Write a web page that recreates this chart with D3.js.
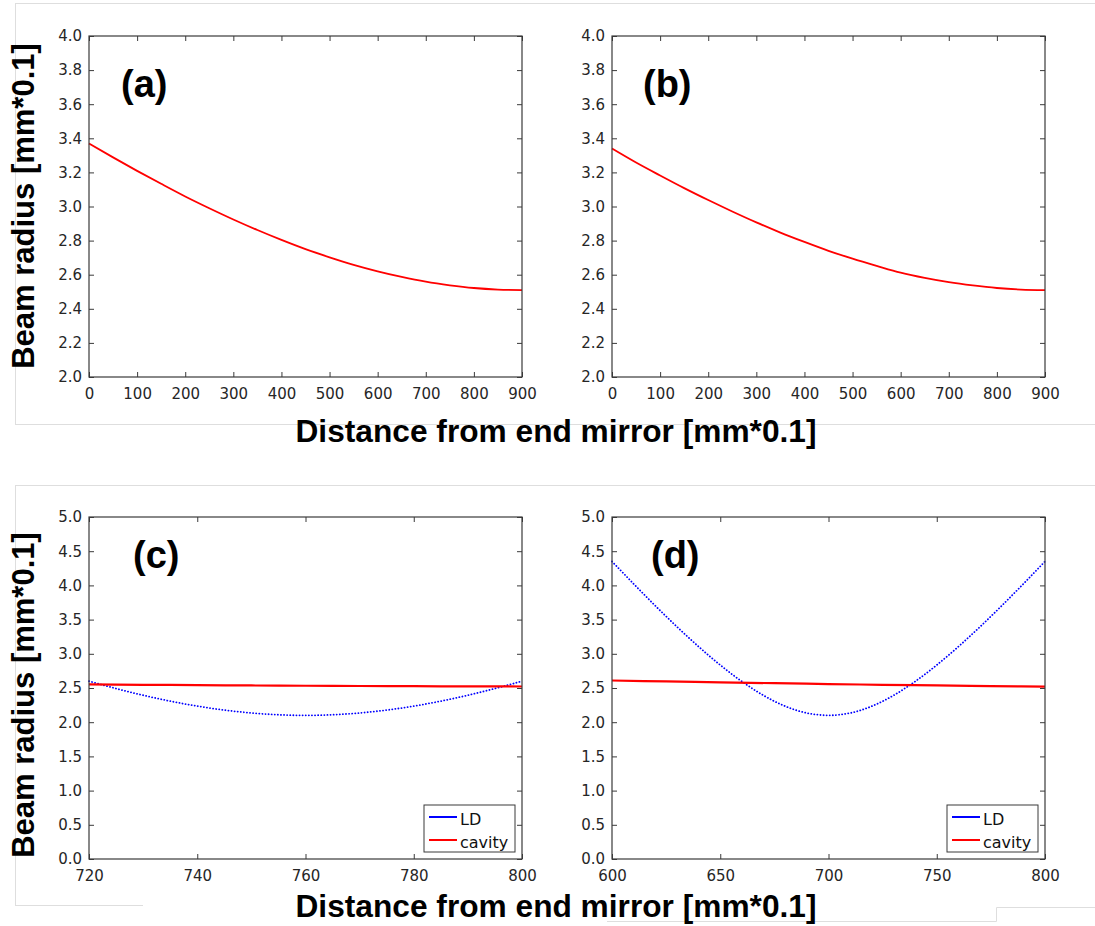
<!DOCTYPE html>
<html>
<head>
<meta charset="utf-8">
<script src="https://cdn.jsdelivr.net/npm/d3@7"></script>
<style>
  html, body { margin: 0; padding: 0; background: #fff; }
  svg { display: block; }
</style>
</head>
<body>
<svg id="fig" width="1095" height="926"></svg>
<script>
// ---- Data: beam radius [mm*0.1] versus distance from end mirror [mm*0.1] ----
// Panel (a) and (b): cavity mode
const distAB = [0, 50, 100, 150, 200, 250, 300, 350, 400, 450, 500, 550, 600, 650, 700, 750, 800, 850, 900];
const cavityA = [3.370, 3.288, 3.209, 3.133, 3.059, 2.990, 2.924, 2.862, 2.804, 2.750, 2.702, 2.658, 2.620, 2.587, 2.559, 2.538, 2.522, 2.513, 2.510];
const cavityB = [3.340, 3.258, 3.182, 3.108, 3.038, 2.971, 2.907, 2.847, 2.792, 2.740, 2.694, 2.652, 2.612, 2.581, 2.556, 2.537, 2.522, 2.513, 2.510];

// Panel (c): LD beam and cavity mode near 720-800
const distC = [720, 725, 730, 735, 740, 745, 750, 755, 760, 765, 770, 775, 780, 785, 790, 795, 800];
const ldC = [2.600, 2.492, 2.394, 2.308, 2.235, 2.177, 2.135, 2.109, 2.100, 2.109, 2.135, 2.177, 2.235, 2.308, 2.394, 2.492, 2.600];
const distCavC = [720, 730, 740, 750, 760, 770, 780, 790, 800];
const cavityC = [2.552, 2.547, 2.542, 2.537, 2.533, 2.529, 2.526, 2.524, 2.522];

// Panel (d): LD beam and cavity mode near 600-800
const distD = [600, 605, 610, 615, 620, 625, 630, 635, 640, 645, 650, 655, 660, 665, 670, 675, 680, 685, 690, 695, 700,
               705, 710, 715, 720, 725, 730, 735, 740, 745, 750, 755, 760, 765, 770, 775, 780, 785, 790, 795, 800];
const ldD = [4.350, 4.186, 4.022, 3.861, 3.702, 3.547, 3.395, 3.248, 3.105, 2.967, 2.836, 2.711, 2.595, 2.488, 2.391, 2.306, 2.234, 2.176, 2.134, 2.109, 2.100,
             2.109, 2.134, 2.176, 2.234, 2.306, 2.391, 2.488, 2.595, 2.711, 2.836, 2.967, 3.105, 3.248, 3.395, 3.547, 3.702, 3.861, 4.022, 4.186, 4.350];
const distCavD = [600, 625, 650, 675, 700, 725, 750, 775, 800];
const cavityD = [2.610, 2.596, 2.583, 2.570, 2.558, 2.547, 2.537, 2.528, 2.521];

// Tick values
const ticksXAB = [0, 100, 200, 300, 400, 500, 600, 700, 800, 900];
const ticksYAB = [2.0, 2.2, 2.4, 2.6, 2.8, 3.0, 3.2, 3.4, 3.6, 3.8, 4.0];
const ticksXC = [720, 740, 760, 780, 800];
const ticksXD = [600, 650, 700, 750, 800];
const ticksYCD = [0, 0.5, 1.0, 1.5, 2.0, 2.5, 3.0, 3.5, 4.0, 4.5, 5.0];

const legendNames = ["LD", "cavity"];
const panelLabels = ["(a)", "(b)", "(c)", "(d)"];
const yTitle = "Beam radius [mm*0.1]";
const xTitle = "Distance from end mirror [mm*0.1]";

const BLUE = "#0000ff", RED = "#ff0000", AXIS = "#3a3a3a", TICKTXT = "#262626", FRAME = "#dedede";
const TICKFONT = "'DejaVu Sans', sans-serif";
const BOLDFONT = "'Liberation Sans', Arial, sans-serif";

const svg = d3.select("#fig");

// Light frames around the two rows of the figure
const frames = svg.append("g").attr("stroke", FRAME).attr("stroke-width", 1).attr("fill", "none");
[
  [15, 3.5, 1095, 3.5], [15.5, 3.5, 15.5, 424.5], [15, 424.5, 1095, 424.5],
  [15, 485.5, 1095, 485.5], [15.5, 485.5, 15.5, 905.5], [15, 905.5, 143, 905.5],
  [607, 921.5, 996.5, 921.5], [996.5, 907.5, 996.5, 921.5], [996.5, 907.5, 1095, 907.5]
].forEach(s => frames.append("line").attr("x1", s[0]).attr("y1", s[1]).attr("x2", s[2]).attr("y2", s[3]));

function drawPanel(p) {
  const x = d3.scaleLinear().domain(p.xDomain).range([p.left, p.right]);
  const y = d3.scaleLinear().domain(p.yDomain).range([p.bottom, p.top]);
  const g = svg.append("g");
  const fmtY = d3.format(".1f");

  // Series
  const line = (xs, ys) => d3.line().curve(d3.curveMonotoneX)
    .x((d, i) => x(xs[i])).y((d, i) => y(ys[i]))(ys);
  p.series.forEach(s => {
    g.append("path").attr("d", line(s.x, s.y)).attr("fill", "none")
      .attr("stroke", s.color).attr("stroke-width", s.width)
      .attr("stroke-dasharray", s.dash || null).attr("stroke-linecap", s.dash ? "round" : "butt");
  });

  // Axes: ticks point inward on all four sides
  const axB = d3.axisBottom(x).tickValues(p.xTicks).tickSizeInner(-5).tickSizeOuter(0).tickPadding(11).tickFormat(d3.format("d"));
  const axT = d3.axisTop(x).tickValues(p.xTicks).tickSizeInner(-5).tickSizeOuter(0).tickFormat("");
  const axL = d3.axisLeft(y).tickValues(p.yTicks).tickSizeInner(-5).tickSizeOuter(0).tickPadding(7).tickFormat(fmtY);
  const axR = d3.axisRight(y).tickValues(p.yTicks).tickSizeInner(-5).tickSizeOuter(0).tickFormat("");
  const gb = g.append("g").attr("transform", `translate(0,${p.bottom})`).call(axB);
  const gt = g.append("g").attr("transform", `translate(0,${p.top})`).call(axT);
  const gl = g.append("g").attr("transform", `translate(${p.left},0)`).call(axL);
  const gr = g.append("g").attr("transform", `translate(${p.right},0)`).call(axR);
  [gb, gt, gl, gr].forEach(a => {
    a.select(".domain").remove();
    a.selectAll(".tick line").attr("stroke", AXIS).attr("stroke-width", 1);
    a.selectAll(".tick text").attr("fill", TICKTXT).style("font-family", TICKFONT).style("font-size", "15px");
  });
  g.append("rect").attr("x", p.left).attr("y", p.top)
    .attr("width", p.right - p.left).attr("height", p.bottom - p.top)
    .attr("fill", "none").attr("stroke", AXIS).attr("stroke-width", 1.2);

  // Panel label
  g.append("text").attr("x", p.left + p.labelDx).attr("y", p.top + p.labelDy)
    .style("font-family", BOLDFONT).style("font-weight", "bold").style("font-size", "38px")
    .attr("fill", "#000").text(p.label);

  // Legend
  if (p.legend) {
    const lw = 91, lh = 47;
    const lx = p.right - 7 - lw, ly = p.bottom - 7 - lh;
    const lg = g.append("g");
    lg.append("rect").attr("x", lx).attr("y", ly).attr("width", lw).attr("height", lh)
      .attr("fill", "#fff").attr("stroke", AXIS).attr("stroke-width", 1);
    p.legend.forEach((it, i) => {
      const cy = ly + 12 + i * 23;
      lg.append("line").attr("x1", lx + 5).attr("x2", lx + 33).attr("y1", cy).attr("y2", cy)
        .attr("stroke", it.color).attr("stroke-width", 2);
      lg.append("text").attr("x", lx + 36).attr("y", cy + 7.5)
        .style("font-family", TICKFONT).style("font-size", "16px").attr("fill", "#111").text(it.name);
    });
  }
}

const rowTop = { top: 36, bottom: 377 };
const rowBot = { top: 517, bottom: 859 };
const colL = { left: 89, right: 522 };
const colR = { left: 612, right: 1045 };

drawPanel({ ...colL, ...rowTop, xDomain: [0, 900], yDomain: [2, 4], xTicks: ticksXAB, yTicks: ticksYAB,
  label: panelLabels[0], labelDx: 32, labelDy: 61,
  series: [{ x: distAB, y: cavityA, color: RED, width: 1.8 }] });
drawPanel({ ...colR, ...rowTop, xDomain: [0, 900], yDomain: [2, 4], xTicks: ticksXAB, yTicks: ticksYAB,
  label: panelLabels[1], labelDx: 31, labelDy: 61,
  series: [{ x: distAB, y: cavityB, color: RED, width: 1.8 }] });
drawPanel({ ...colL, ...rowBot, xDomain: [720, 800], yDomain: [0, 5], xTicks: ticksXC, yTicks: ticksYCD,
  label: panelLabels[2], labelDx: 44, labelDy: 51,
  series: [{ x: distC, y: ldC, color: BLUE, width: 1.8, dash: "0.1 3" },
           { x: distCavC, y: cavityC, color: RED, width: 2.2 }],
  legend: [{ name: legendNames[0], color: BLUE }, { name: legendNames[1], color: RED }] });
drawPanel({ ...colR, ...rowBot, xDomain: [600, 800], yDomain: [0, 5], xTicks: ticksXD, yTicks: ticksYCD,
  label: panelLabels[3], labelDx: 39, labelDy: 51,
  series: [{ x: distD, y: ldD, color: BLUE, width: 1.8, dash: "0.1 3" },
           { x: distCavD, y: cavityD, color: RED, width: 2.2 }],
  legend: [{ name: legendNames[0], color: BLUE }, { name: legendNames[1], color: RED }] });

// Shared axis titles
function yLabel(cx, cy) {
  svg.append("text").attr("transform", `translate(${cx},${cy}) rotate(-90)`)
    .attr("text-anchor", "middle")
    .style("font-family", BOLDFONT).style("font-weight", "bold").style("font-size", "31px")
    .attr("fill", "#000").text(yTitle);
}
function xLabel(cx, by) {
  svg.append("text").attr("x", cx).attr("y", by).attr("text-anchor", "middle")
    .attr("textLength", 521).attr("lengthAdjust", "spacingAndGlyphs")
    .style("font-family", BOLDFONT).style("font-weight", "bold").style("font-size", "31px")
    .attr("fill", "#000").text(xTitle);
}
yLabel(34, 206);
yLabel(34, 695);
xLabel(556, 442);
xLabel(556, 917);
</script>
</body>
</html>
